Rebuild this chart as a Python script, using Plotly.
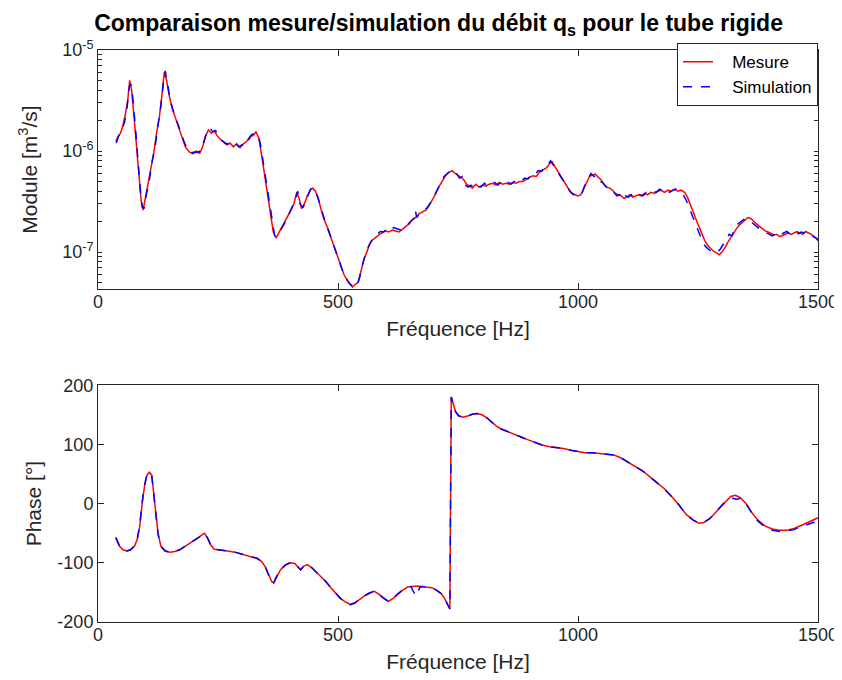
import plotly.graph_objects as go

# ---------------- data ----------------
mod_mes_f = [37,42,47,52,57,62,66,70,75,80,85,90,94,98,103,110,116,122,128,133,138,143,148,155,162,168,175,182,190,198,
             205,212,218,224,230,236,242,248,255,262,268,275,282,289,296,303,310,317,323,329,335,341,347,353,359,365,371,377,383,390,
             396,402,408,414,419,424,430,436,442,447,453,459,465,471,477,483,489,495,501,507,513,519,525,530,536,542,548,554,560,566,
             572,578,585,592,599,606,613,620,627,634,641,648,655,662,669,676,683,690,697,704,711,718,725,732,738,744,750,756,762,768,
             774,780,787,794,801,808,815,822,829,836,843,850,857,864,871,878,885,892,899,906,913,920,927,934,940,946,952,958,964,970,
             976,982,988,994,1000,1006,1012,1018,1024,1030,1036,1042,1048,1054,1060,1066,1072,1078,1084,1090,1096,1102,1108,1114,1120,1126,1132,1138,1145,1152,
             1159,1166,1173,1180,1187,1194,1201,1208,1215,1222,1228,1234,1240,1246,1252,1258,1264,1270,1276,1282,1288,1294,1300,1306,1312,1318,1324,1330,1336,1342,
             1348,1354,1360,1366,1372,1378,1384,1390,1396,1402,1408,1414,1420,1426,1432,1438,1444,1450,1456,1462,1468,1474,1480,1486,1492,1500]
mod_mes_v = [1.25e-6,1.4e-6,1.5e-6,1.8e-6,2.3e-6,3.2e-6,5.0e-6,4.0e-6,2.2e-6,1.1e-6,5.5e-7,3.2e-7,2.6e-7,3.3e-7,4.2e-7,7.0e-7,9.5e-7,1.5e-6,2.2e-6,3.5e-6,
             6.0e-6,5.0e-6,3.6e-6,2.6e-6,2.1e-6,1.7e-6,1.35e-6,1.1e-6,9.8e-7,9.4e-7,1.0e-6,9.5e-7,1.1e-6,1.4e-6,1.62e-6,1.5e-6,1.58e-6,1.42e-6,1.3e-6,1.22e-6,
             1.15e-6,1.2e-6,1.1e-6,1.18e-6,1.08e-6,1.18e-6,1.25e-6,1.4e-6,1.42e-6,1.55e-6,1.35e-6,9.0e-7,6.0e-7,3.8e-7,2.4e-7,1.6e-7,1.38e-7,1.55e-7,1.75e-7,2.0e-7,
             2.3e-7,2.6e-7,3.0e-7,3.9e-7,3.4e-7,2.7e-7,3.0e-7,3.6e-7,4.1e-7,4.3e-7,4.0e-7,3.4e-7,2.6e-7,2.1e-7,1.8e-7,1.5e-7,1.25e-7,1.05e-7,8.5e-8,7.0e-8,
             5.9e-8,5.3e-8,4.9e-8,4.5e-8,4.8e-8,5.0e-8,6.5e-8,8.5e-8,1.0e-7,1.2e-7,1.32e-7,1.4e-7,1.48e-7,1.55e-7,1.62e-7,1.58e-7,1.65e-7,1.62e-7,1.58e-7,1.68e-7,
             1.78e-7,1.9e-7,2.1e-7,2.2e-7,2.4e-7,2.5e-7,2.6e-7,2.9e-7,3.3e-7,3.8e-7,4.5e-7,5.2e-7,5.8e-7,6.2e-7,6.4e-7,6.0e-7,5.8e-7,5.5e-7,5.2e-7,4.7e-7,
             4.5e-7,4.3e-7,4.7e-7,4.4e-7,4.6e-7,4.5e-7,4.7e-7,4.8e-7,4.6e-7,4.9e-7,4.7e-7,4.8e-7,4.7e-7,4.9e-7,4.8e-7,5.0e-7,5.0e-7,5.3e-7,5.5e-7,5.7e-7,
             5.6e-7,6.2e-7,6.5e-7,6.8e-7,7.4e-7,7.8e-7,7.0e-7,6.3e-7,5.6e-7,5.1e-7,4.5e-7,4.1e-7,3.8e-7,3.7e-7,3.6e-7,3.7e-7,4.3e-7,5.0e-7,5.6e-7,5.8e-7,
             5.9e-7,5.5e-7,5.2e-7,4.7e-7,4.4e-7,4.3e-7,4.1e-7,3.8e-7,3.7e-7,3.6e-7,3.4e-7,3.5e-7,3.7e-7,3.5e-7,3.6e-7,3.7e-7,3.6e-7,3.8e-7,3.7e-7,3.9e-7,
             3.8e-7,4.0e-7,4.1e-7,3.9e-7,4.1e-7,4.0e-7,4.2e-7,4.0e-7,4.1e-7,3.9e-7,3.5e-7,3.0e-7,2.5e-7,2.1e-7,1.8e-7,1.5e-7,1.3e-7,1.17e-7,1.08e-7,1.02e-7,
             9.9e-8,9.4e-8,1.0e-7,1.1e-7,1.25e-7,1.4e-7,1.55e-7,1.7e-7,1.85e-7,1.95e-7,2.05e-7,2.2e-7,2.15e-7,2.0e-7,1.9e-7,1.8e-7,1.7e-7,1.62e-7,1.58e-7,1.52e-7,
             1.48e-7,1.5e-7,1.42e-7,1.46e-7,1.5e-7,1.55e-7,1.5e-7,1.56e-7,1.6e-7,1.55e-7,1.5e-7,1.6e-7,1.55e-7,1.5e-7,1.4e-7,1.35e-7]

mod_sim_f = [38,44,50,56,61,65,69,73,78,83,88,92,96,100,106,113,119,125,131,136,140,145,151,158,165,172,179,186,194,201,
             208,215,221,227,233,239,245,251,258,265,272,279,286,293,300,307,314,320,326,332,338,344,350,356,362,368,374,380,387,393,
             399,405,411,416,421,427,433,439,444,450,456,462,468,474,480,486,492,498,504,510,516,522,528,533,539,545,551,557,563,569,
             575,581,588,595,602,609,616,623,630,637,644,651,658,661,664,672,679,686,693,700,707,714,721,728,735,741,747,753,759,765,
             771,777,784,791,798,805,812,819,826,833,840,847,854,861,868,875,882,889,896,903,910,917,924,931,937,943,949,955,961,967,
             973,979,985,991,997,1003,1009,1015,1021,1027,1033,1039,1045,1051,1057,1063,1069,1075,1081,1087,1093,1099,1105,1111,1117,1123,1129,1135,1142,1149,
             1156,1163,1170,1177,1184,1191,1198,1205,1212,1219,1225,1231,1237,1243,1249,1255,1261,1267,1273,1279,1285,1291,1297,1303,1309,1315,1321,1327,1333,1339,
             1345,1351,1357,1363,1369,1375,1381,1387,1393,1399,1405,1411,1417,1423,1429,1435,1441,1447,1453,1459,1465,1471,1477,1483,1489,1496,1500]
mod_sim_v = [1.2e-6,1.45e-6,1.6e-6,2.0e-6,2.8e-6,4.3e-6,4.6e-6,3.2e-6,1.7e-6,8.0e-7,4.2e-7,2.8e-7,2.7e-7,3.6e-7,4.8e-7,8.0e-7,1.1e-6,1.8e-6,2.8e-6,4.6e-6,
             6.2e-6,4.6e-6,3.1e-6,2.4e-6,1.9e-6,1.5e-6,1.25e-6,1.05e-6,9.6e-7,9.8e-7,9.7e-7,1.02e-6,1.25e-6,1.55e-6,1.7e-6,1.55e-6,1.6e-6,1.38e-6,1.28e-6,1.2e-6,
             1.17e-6,1.12e-6,1.2e-6,1.1e-6,1.15e-6,1.12e-6,1.3e-6,1.45e-6,1.48e-6,1.5e-6,1.2e-6,7.8e-7,5.0e-7,3.2e-7,2.0e-7,1.45e-7,1.45e-7,1.62e-7,1.85e-7,2.1e-7,
             2.45e-7,2.8e-7,3.3e-7,4.0e-7,3.0e-7,2.75e-7,3.2e-7,3.8e-7,4.3e-7,4.2e-7,3.7e-7,3.0e-7,2.35e-7,1.95e-7,1.65e-7,1.38e-7,1.15e-7,9.5e-8,7.8e-8,6.4e-8,
             5.6e-8,5.0e-8,4.7e-8,4.8e-8,4.6e-8,5.6e-8,7.5e-8,9.5e-8,1.12e-7,1.28e-7,1.4e-7,1.48e-7,1.6e-7,1.58e-7,1.72e-7,1.65e-7,1.75e-7,1.7e-7,1.66e-7,1.76e-7,
             1.85e-7,2.0e-7,2.15e-7,2.6e-7,2.2e-7,2.45e-7,2.6e-7,2.75e-7,3.1e-7,3.6e-7,4.2e-7,4.9e-7,5.6e-7,6.0e-7,6.5e-7,6.2e-7,6.0e-7,5.4e-7,5.6e-7,4.6e-7,
             4.4e-7,4.6e-7,4.3e-7,4.6e-7,4.4e-7,4.8e-7,4.5e-7,4.7e-7,4.9e-7,4.6e-7,4.9e-7,4.6e-7,4.9e-7,4.7e-7,5.0e-7,4.8e-7,5.1e-7,5.4e-7,5.3e-7,5.9e-7,
             5.8e-7,6.4e-7,6.3e-7,7.2e-7,7.3e-7,8.0e-7,7.2e-7,6.5e-7,5.8e-7,5.3e-7,4.7e-7,4.3e-7,3.9e-7,3.7e-7,3.7e-7,3.6e-7,3.9e-7,4.7e-7,5.4e-7,6.0e-7,
             5.6e-7,5.7e-7,5.0e-7,4.9e-7,4.5e-7,4.2e-7,4.2e-7,3.9e-7,3.6e-7,3.7e-7,3.3e-7,3.6e-7,3.5e-7,3.7e-7,3.5e-7,3.8e-7,3.7e-7,3.6e-7,3.9e-7,3.8e-7,
             4.0e-7,3.9e-7,4.2e-7,4.0e-7,4.2e-7,3.9e-7,4.1e-7,4.2e-7,3.9e-7,3.7e-7,3.3e-7,2.8e-7,2.3e-7,1.95e-7,1.65e-7,1.4e-7,1.22e-7,1.12e-7,1.05e-7,1.0e-7,
             9.8e-8,1.0e-7,1.08e-7,1.2e-7,1.35e-7,1.5e-7,1.45e-7,1.75e-7,1.9e-7,2.0e-7,2.1e-7,2.05e-7,2.1e-7,1.95e-7,1.85e-7,1.72e-7,1.65e-7,1.6e-7,1.55e-7,1.5e-7,
             1.45e-7,1.52e-7,1.44e-7,1.5e-7,1.55e-7,1.6e-7,1.52e-7,1.58e-7,1.62e-7,1.52e-7,1.58e-7,1.55e-7,1.6e-7,1.48e-7,1.45e-7,1.38e-7,1.3e-7]

ph_mes_f = [37,45,52,60,68,76,82,87,92,97,102,107,112,116,120,125,131,140,150,160,170,180,190,200,210,218,222,228,235,242,
            255,270,285,300,315,330,340,348,356,362,366,372,380,390,400,410,418,422,428,436,445,455,465,475,485,495,505,515,525,535,
            545,555,565,575,585,595,605,615,625,635,645,655,665,675,685,695,705,715,722,728,733,736,740,745,752,760,770,780,790,800,
            810,820,830,840,850,865,880,895,910,925,940,955,970,985,1000,1015,1030,1045,1060,1075,1090,1105,1120,1135,1150,1165,1180,1195,1210,1225,
            1240,1252,1262,1275,1290,1305,1318,1328,1338,1350,1362,1375,1390,1405,1420,1435,1450,1465,1480,1490,1500]
ph_mes_v = [-58,-72,-78,-80,-78,-72,-60,-38,0,30,48,53,48,20,-15,-50,-72,-80,-82,-81,-78,-73,-67,-62,-57,-52,-50,-58,-70,-77,
            -79,-80,-82,-86,-89,-92,-97,-106,-120,-132,-134,-124,-112,-104,-100,-101,-108,-112,-106,-103,-108,-116,-124,-132,-142,-152,-160,-166,-170,-168,
            -162,-156,-152,-148,-153,-160,-165,-160,-153,-146,-141,-140,-139,-140,-141,-142,-146,-152,-160,-170,-178,180,168,155,148,146,148,151,152,150,
            145,138,131,126,123,118,113,108,103,99,96,95,93,90,88,86,86,85,84,82,77,70,62,55,45,35,25,12,-2,-18,
            -28,-33,-32,-25,-12,2,12,14,10,0,-15,-28,-38,-43,-45,-45,-42,-37,-32,-28,-24]

ph_sim_f = [37,45,52,60,68,76,82,87,92,97,102,107,112,116,120,125,131,140,150,160,170,180,190,200,210,218,222,228,235,242,
            255,270,285,300,315,330,340,348,356,362,366,372,380,390,400,410,418,422,428,436,445,455,465,475,485,495,505,515,525,535,
            545,555,565,575,585,595,605,615,625,635,645,652,658,664,670,676,685,695,705,715,722,728,733,736,740,745,752,760,770,780,790,800,
            810,820,830,840,850,865,880,895,910,925,940,955,970,985,1000,1015,1030,1045,1060,1075,1090,1105,1120,1135,1150,1165,1180,1195,1210,1225,
            1240,1252,1262,1275,1290,1305,1318,1324,1330,1338,1350,1362,1375,1390,1405,1420,1435,1450,1465,1480,1490,1500]
ph_sim_v = [-57,-72,-78,-80,-78,-71,-58,-36,2,31,49,53,47,19,-16,-51,-72,-80,-82,-81,-78,-73,-67,-62,-57,-52,-50,-58,-70,-77,
            -79,-80,-82,-86,-89,-92,-97,-106,-121,-133,-134,-123,-112,-104,-100,-101,-108,-112,-106,-103,-108,-116,-124,-132,-142,-152,-160,-166,-171,-168,
            -161,-156,-151,-148,-154,-160,-165,-160,-152,-146,-142,-140,-150,-156,-142,-140,-141,-142,-146,-152,-160,-170,-178,180,168,155,148,146,148,151,152,150,
            145,138,131,126,123,118,113,108,103,99,96,95,93,90,88,86,86,85,84,82,77,70,62,55,45,35,25,12,-2,-18,
            -28,-33,-32,-25,-12,2,8,9,7,9,0,-16,-30,-40,-45,-47,-46,-44,-39,-35,-32,-29]

x_ticks = [0, 500, 1000, 1500]
mod_ticks = [1e-7, 1e-6, 1e-5]
mod_ticktext = ["10<sup>-7</sup>", "10<sup>-6</sup>", "10<sup>-5</sup>"]
mod_minor_ticks = [5e-8, 6e-8, 7e-8, 8e-8, 9e-8,
                   2e-7, 3e-7, 4e-7, 5e-7, 6e-7, 7e-7, 8e-7, 9e-7,
                   2e-6, 3e-6, 4e-6, 5e-6, 6e-6, 7e-6, 8e-6, 9e-6]
ph_ticks = [-200, -100, 0, 100, 200]
ph_ticktext = ["-200", "-100", "0", "100", "200"]

title_text = "<b>Comparaison mesure/simulation du débit q<sub>s</sub> pour le tube rigide</b>"

# ---------------- figure ----------------
RED = "#ff0000"
BLUE = "#0000ff"
AX = "#262626"
FONT = "Liberation Sans, Arial, sans-serif"
LOG_RANGE = [-7.366, -5]
PAD = "\u00a0\u00a0\u00a0"

fig = go.Figure()
fig.add_trace(go.Scatter(x=mod_mes_f, y=mod_mes_v, mode="lines", name=PAD + "Mesure",
                         line=dict(color=RED, width=1.5), xaxis="x", yaxis="y"))
fig.add_trace(go.Scatter(x=mod_sim_f, y=mod_sim_v, mode="lines", name=PAD + "Simulation",
                         line=dict(color=BLUE, width=1.5, dash="dash"), xaxis="x", yaxis="y"))
fig.add_trace(go.Scatter(x=ph_mes_f, y=ph_mes_v, mode="lines", name="Mesure", showlegend=False,
                         line=dict(color=RED, width=1.5), xaxis="x2", yaxis="y2"))
fig.add_trace(go.Scatter(x=ph_sim_f, y=ph_sim_v, mode="lines", name="Simulation", showlegend=False,
                         line=dict(color=BLUE, width=1.5, dash="dash"), xaxis="x2", yaxis="y2"))

common_axis = dict(showline=True, linecolor=AX, linewidth=1, mirror="ticks", ticks="inside",
                   tickcolor=AX, showgrid=False, zeroline=False,
                   tickfont=dict(size=18, color=AX, family=FONT))

fig.update_layout(
    width=842, height=680,
    paper_bgcolor="white", plot_bgcolor="white",
    margin=dict(l=90, r=25, t=42, b=66),
    font=dict(family=FONT, color=AX),
    title=dict(text=title_text, x=0.473, xanchor="center", xref="paper",
               y=0.99, yanchor="top", yref="container",
               font=dict(size=23, color="black", family=FONT)),
    xaxis=dict(domain=[0, 1], anchor="y", range=[0, 1500], tickvals=x_ticks, ticklen=6,
               ticklabelstandoff=-4,
               title=dict(text="Fréquence [Hz]", font=dict(size=21, color=AX), standoff=10),
               **common_axis),
    yaxis=dict(domain=[0.582, 1], anchor="x", type="log", range=LOG_RANGE,
               tickvals=mod_ticks + mod_minor_ticks,
               ticktext=mod_ticktext + [""] * len(mod_minor_ticks), ticklen=4,
               title=dict(text="Module [m<sup>3</sup>/s]", font=dict(size=21, color=AX), standoff=18),
               **common_axis),
    xaxis2=dict(domain=[0, 1], anchor="y2", range=[0, 1500], tickvals=x_ticks, ticklen=6,
                ticklabelstandoff=-4,
                title=dict(text="Fréquence [Hz]", font=dict(size=21, color=AX), standoff=10),
                **common_axis),
    yaxis2=dict(domain=[0, 0.414], anchor="x2", range=[-200, 200], tickvals=ph_ticks,
                ticktext=ph_ticktext, ticklen=6,
                title=dict(text="Phase [°]", font=dict(size=21, color=AX), standoff=10),
                **common_axis),
    legend=dict(x=1, xanchor="right", y=1.012, yanchor="top", bgcolor="white",
                bordercolor=AX, borderwidth=1, font=dict(size=17, color="black", family=FONT),
                tracegroupgap=0),
)

fig.write_html("out.html")
